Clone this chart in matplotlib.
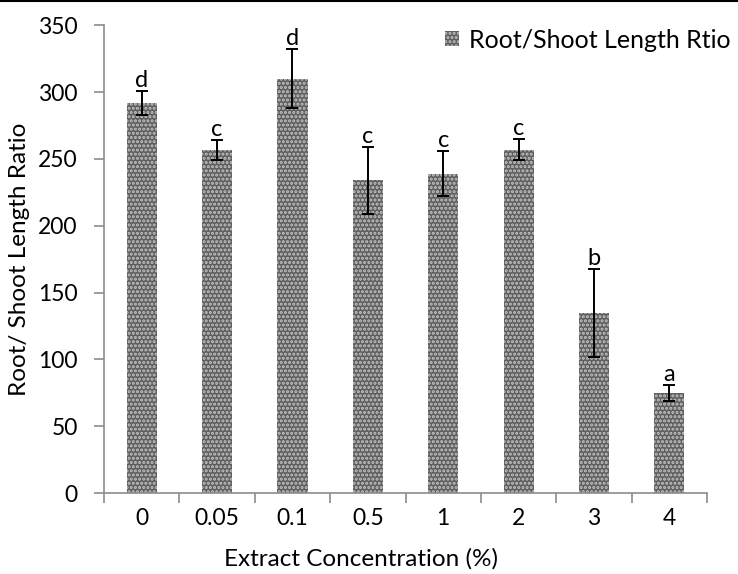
import matplotlib.pyplot as plt
import numpy as np
from matplotlib.lines import Line2D

plt.rcParams['font.family'] = ['Lato', 'DejaVu Sans']
plt.rcParams['hatch.linewidth'] = 1.5

# data
concentrations = ['0', '0.05', '0.1', '0.5', '1', '2', '3', '4']
ratio = [292, 257, 310, 234, 239, 257, 135, 75]
ratio_err = [9, 7.5, 22, 25, 17, 8, 33, 6]
letters = ['d', 'c', 'd', 'c', 'c', 'c', 'b', 'a']

fig = plt.figure(figsize=(7.38, 5.74), dpi=100)
ax = fig.add_axes([0.141, 0.141, 0.817, 0.815])

x = np.arange(len(concentrations))
ax.bar(x, ratio, width=0.4, color='#5e5e5e', edgecolor='#c4c4c4',
       linewidth=0, hatch='....', label='Root/Shoot Length Rtio', zorder=2)
ax.errorbar(x, ratio, yerr=ratio_err, fmt='none', ecolor='black',
            elinewidth=1.4, capsize=4.5, capthick=1.4, zorder=3)

# significance letters above each error bar
for xi, v, e, l in zip(x, ratio, ratio_err, letters):
    ax.annotate(l, (xi, v + e), xytext=(0, 0), textcoords='offset points',
                ha='center', va='bottom', fontsize=17)

ax.set_xlim(-0.5, len(concentrations) - 0.5)
ax.set_ylim(0, 350)
ax.set_yticks(range(0, 351, 50))
ax.set_xticks(x)
ax.set_xticklabels(concentrations)
ax.set_xticks(np.arange(-0.5, len(concentrations), 1), minor=True)
ax.tick_params(axis='x', which='major', length=0, labelsize=16.5, pad=11)
ax.tick_params(axis='x', which='minor', length=7, width=1.2, color='#8c8c8c')
ax.tick_params(axis='y', length=7, width=1.2, color='#8c8c8c', labelsize=16.5, pad=12)

for s in ['top', 'right']:
    ax.spines[s].set_visible(False)
for s in ['left', 'bottom']:
    ax.spines[s].set_color('#8c8c8c')
    ax.spines[s].set_linewidth(1.2)

# x title sits a little left of the plot centre in the reference
ax.set_xlabel('Extract Concentration (%)', fontsize=17.5)
ax.xaxis.set_label_coords(0.426, -0.118)
ax.set_ylabel('Root/ Shoot Length Ratio', fontsize=17.5, labelpad=6)

ax.legend(loc='upper left', bbox_to_anchor=(0.603, 0.95), bbox_transform=fig.transFigure,
          frameon=False, fontsize=18, borderpad=0, borderaxespad=0,
          handlelength=0.55, handleheight=0.55, handletextpad=0.4)

# thin black rule along the top of the picture
fig.add_artist(Line2D([0, 1], [0.998, 0.998], color='black', lw=1.5,
                      transform=fig.transFigure))

plt.savefig('out.png', dpi=100)
